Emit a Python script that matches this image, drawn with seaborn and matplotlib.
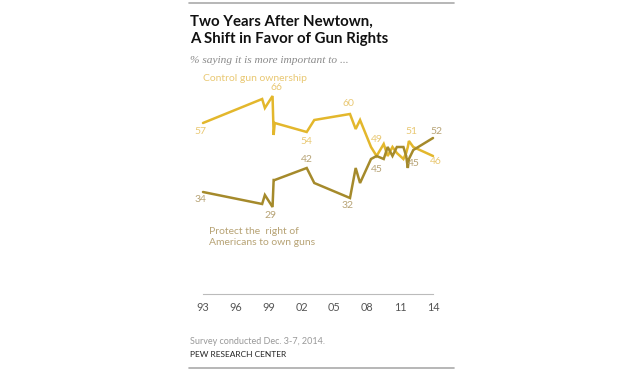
import matplotlib
matplotlib.use("Agg")
import matplotlib.pyplot as plt
import seaborn as sns
import pandas as pd
from matplotlib.lines import Line2D

# ---- data ----
years = [1993.0, 1998.4, 1998.65, 1999.35, 1999.45, 1999.55, 2002.47, 2003.16,
         2006.42, 2006.94, 2007.34, 2008.34, 2008.85, 2009.5, 2009.86, 2010.3,
         2010.7, 2011.3, 2011.55, 2011.7, 2011.8, 2012.2, 2014.0]
control = [57, 65, 62, 66, 53, 57, 54, 58, 60, 55, 58, 49, 46, 50, 46, 49,
           47, 45, 47, 49, 51, 49, 46]
rights = [34, 30, 33, 29, 38, 38, 42, 37, 32, 42, 37, 45, 46, 45, 49, 46,
          49, 49, 46, 42, 45, 48, 52]
tick_years = [1993, 1996, 1999, 2002, 2005, 2008, 2011, 2014]
tick_labels = ["93", "96", "99", "02", "05", "08", "11", "14"]
series_names = ["Control gun ownership", "Protect the  right of\nAmericans to own guns"]

title = "Two Years After Newtown,\nA Shift in Favor of Gun Rights"
subtitle = "% saying it is more important to ..."
note = "Survey conducted Dec. 3-7, 2014."
source = "PEW RESEARCH CENTER"

# ---- styles ----
C_LINE = "#E3B72C"
C_TEXT = "#E9C873"
R_LINE = "#A58A2B"
R_TEXT = "#B7A375"

sns.set_theme(style="white")
plt.rcParams["font.family"] = ["Lato", "DejaVu Sans"]

W, H = 640, 371
fig = plt.figure(figsize=(W / 100, H / 100), dpi=100)
ax = fig.add_axes([203 / W, (H - 294) / H, 230 / W, 210 / H])

df = pd.DataFrame({"year": years + years,
                   "value": control + rights,
                   "series": ["c"] * len(years) + ["r"] * len(years)})
sns.lineplot(data=df, x="year", y="value", hue="series",
             palette={"c": C_LINE, "r": R_LINE}, estimator=None, sort=False,
             linewidth=1.8, ax=ax, legend=False)
for l in ax.lines:
    l.set_clip_on(False)
    l.set_solid_joinstyle("miter")

ax.set_xlim(1993, 2014)
ax.set_ylim(0, 70)
ax.set_xlabel("")
ax.set_ylabel("")
ax.set_yticks([])
ax.set_xticks(tick_years)
ax.set_xticklabels(tick_labels)
ax.tick_params(axis="x", direction="in", length=3, width=0.8, color="#bbbbbb",
               labelsize=7.8, labelcolor="#555555", pad=6)
for s in ["top", "right", "left"]:
    ax.spines[s].set_visible(False)
ax.spines["bottom"].set_color("#bbbbbb")
ax.spines["bottom"].set_linewidth(0.8)

# point labels: (index, offset px)
c_lab = [(0, (-3, -9)), (3, (4, 8)), (6, (0, -9)), (8, (-2, 10)),
         (11, (6, 7)), (20, (3, 10)), (22, (3, -5))]
r_lab = [(0, (-3, -8)), (3, (-2, -8)), (6, (0, 8)), (8, (-2, -7)),
         (11, (6, -10)), (20, (5, -5)), (22, (3, 6))]
for i, off in c_lab:
    ax.annotate(f"{control[i]}", (years[i], control[i]), xytext=off,
                textcoords="offset pixels", ha="center", va="center",
                fontsize=7.5, color=C_TEXT, annotation_clip=False)
for i, off in r_lab:
    ax.annotate(f"{rights[i]}", (years[i], rights[i]), xytext=off,
                textcoords="offset pixels", ha="center", va="center",
                fontsize=7.5, color=R_TEXT, annotation_clip=False)

ax.text(1993.0, 71.7, series_names[0], fontsize=7.5, color=C_TEXT,
        ha="left", va="center", clip_on=False)
ax.text(1993.55, 19.0, series_names[1], fontsize=7.5, color=R_TEXT,
        ha="left", va="center", linespacing=1.3, clip_on=False)

# titles and footer
x0 = 190 / W
fig.text(x0, 1 - 26 / H, title.split("\n")[0], fontsize=10.8, fontweight="bold",
         color="#111111", va="baseline", ha="left")
fig.text(x0, 1 - 43 / H, title.split("\n")[1], fontsize=10.8, fontweight="bold",
         color="#111111", va="baseline", ha="left")
fig.text(x0, 1 - 63 / H, subtitle, fontsize=8.2, style="italic",
         family=["Liberation Serif", "DejaVu Serif"], color="#8a8a8a",
         va="baseline", ha="left")
fig.text(x0, 1 - 344 / H, note, fontsize=6.5, color="#999999",
         va="baseline", ha="left")
fig.text(x0, 1 - 357 / H, source, fontsize=6, color="#222222",
         va="baseline", ha="left")

fig.add_artist(Line2D([189 / W, 454 / W], [1 - 3 / H, 1 - 3 / H],
                      color="#aaaaaa", linewidth=1.2))
fig.add_artist(Line2D([189 / W, 454 / W], [1 - 368 / H, 1 - 368 / H],
                      color="#aaaaaa", linewidth=1.2))

fig.savefig("out.png", dpi=100, facecolor="white")
